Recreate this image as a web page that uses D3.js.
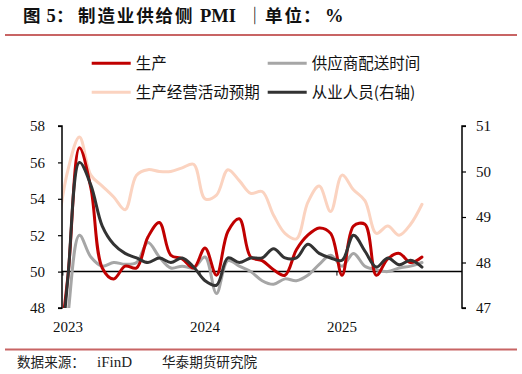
<!DOCTYPE html>
<html><head><meta charset="utf-8">
<script src="https://cdn.jsdelivr.net/npm/d3@7/dist/d3.min.js"></script>
<style>
html,body{margin:0;padding:0;background:#fff;}
svg{display:block;}
</style></head>
<body>
<svg id="chart" width="522" height="374"></svg>
<script>
// Months from Dec 2022 to Aug 2025 (index 0 = 2022-12)
const months = ["2022-12","2023-01","2023-02","2023-03","2023-04","2023-05","2023-06","2023-07","2023-08","2023-09","2023-10","2023-11","2023-12","2024-01","2024-02","2024-03","2024-04","2024-05","2024-06","2024-07","2024-08","2024-09","2024-10","2024-11","2024-12","2025-01","2025-02","2025-03","2025-04","2025-05","2025-06","2025-07","2025-08"];
const production = [44.6,49.8,56.8,54.6,50.2,49.6,50.3,50.2,51.9,52.7,50.9,50.7,50.2,51.3,49.8,52.2,52.9,50.8,50.6,50.1,49.8,51.2,52.0,52.4,52.1,49.8,52.5,52.6,49.8,50.7,51.0,50.5,50.8];
const delivery = [40.1,47.6,52.0,50.8,50.3,50.5,50.4,50.5,51.6,50.8,50.2,50.3,50.2,50.8,48.8,50.6,50.3,50.0,49.5,49.3,49.6,49.5,49.8,50.4,50.9,50.3,51.0,50.3,50.1,50.0,50.2,50.3,50.5];
const expectation = [51.9,55.6,57.4,55.3,54.7,54.1,53.4,55.3,55.6,55.5,55.5,55.7,55.9,54.0,54.2,55.6,55.0,54.3,54.4,53.1,52.1,51.8,53.8,54.7,53.3,55.3,54.5,53.9,52.1,52.5,52.0,52.6,53.7];
const employment = [44.8,47.7,50.2,49.7,48.8,48.4,48.2,48.1,48.0,48.1,48.0,48.1,47.9,47.6,47.5,48.1,48.0,48.1,48.1,48.3,48.1,48.1,48.4,48.2,48.1,48.05,48.6,48.25,47.9,48.1,47.95,48.05,47.9];
const leftTicks = [48,50,52,54,56,58];
const rightTicks = [47,48,49,50,51];
const yearLabels = ["2023","2024","2025"];
const yearIdx = [1,13,25];
const seriesNames = ["生产","供应商配送时间","生产经营活动预期","从业人员(右轴)"];
const colors = ["#C00000","#A6A6A6","#FBD3C0","#333333"];

const svg = d3.select("#chart");
const L = 62, R = 462, T = 126, B = 308;
const x = d3.scaleLinear().domain([0, 32]).range([56.6, 422.0]);
const yL = d3.scaleLinear().domain([48, 58]).range([B, T]);
const yR = d3.scaleLinear().domain([47, 51]).range([B, T]);
const cjk = "'Noto Sans CJK SC','Noto Sans',sans-serif";
const serif = "'Liberation Serif','DejaVu Serif',serif";

// Title (segments placed as in the original)
const titleParts = [
  {t: "图", x: 23, f: cjk},
  {t: "5", x: 46.5, f: serif},
  {t: "：", x: 56, f: cjk},
  {t: "制造业供给侧", x: 78, f: cjk, ls: 1.9},
  {t: "PMI", x: 200, f: serif},
  {t: "｜", x: 246, f: cjk},
  {t: "单位", x: 265, f: cjk, ls: 1.9},
  {t: "：", x: 303, f: cjk},
  {t: "%", x: 325, f: serif}
];
titleParts.forEach(p => {
  svg.append("text").attr("x", p.x).attr("y", 21.5).attr("font-family", p.f)
    .attr("font-size", p.f === serif ? 18.5 : 17.5).attr("font-weight", "bold")
    .attr("letter-spacing", p.ls || 0).attr("fill", "#111").text(p.t);
});

svg.append("line").attr("x1", 5).attr("x2", 517).attr("y1", 35).attr("y2", 35).attr("stroke", "#C86464").attr("stroke-width", 1.8);
svg.append("line").attr("x1", 5).attr("x2", 517).attr("y1", 349.5).attr("y2", 349.5).attr("stroke", "#C86464").attr("stroke-width", 1.8);

// Source
const srcParts = [
  {t: "数据来源：", x: 17, f: cjk},
  {t: "iFinD", x: 97, f: serif},
  {t: "华泰期货研究院", x: 162, f: cjk}
];
srcParts.forEach(p => {
  svg.append("text").attr("x", p.x).attr("y", 367).attr("font-family", p.f)
    .attr("font-size", p.f === serif ? 15 : 13.6).attr("fill", "#222").text(p.t);
});

// Legend
const legendPos = [[91.7,63.3],[267.7,63.3],[91.7,92.3],[267.7,92.3]];
seriesNames.forEach((n, i) => {
  const [lx, ly] = legendPos[i];
  svg.append("line").attr("x1", lx).attr("x2", lx + 39).attr("y1", ly).attr("y2", ly).attr("stroke", colors[i]).attr("stroke-width", 3);
  svg.append("text").attr("x", lx + 44).attr("y", ly + 5.5).attr("font-family", cjk).attr("font-size", 15.5).attr("fill", "#111").text(n);
});

// Clip
svg.append("defs").append("clipPath").attr("id", "plotclip").append("rect").attr("x", L).attr("y", T - 10).attr("width", R - L).attr("height", B - T + 10);

// Baseline at 50
svg.append("line").attr("x1", L).attr("x2", R).attr("y1", yL(50)).attr("y2", yL(50)).attr("stroke", "#000").attr("stroke-width", 1.5);
yearIdx.forEach(i => {
  svg.append("line").attr("x1", x(i - 0.45)).attr("x2", x(i - 0.45)).attr("y1", yL(50)).attr("y2", yL(50) + 4).attr("stroke", "#000").attr("stroke-width", 1);
});

// Lines
const g = svg.append("g").attr("clip-path", "url(#plotclip)");
const mk = (data, ys) => d3.line().x((d, i) => x(i)).y(d => ys(d)).curve(d3.curveCatmullRom.alpha(0.5))(data);
const dataSets = [[production, yL], [delivery, yL], [expectation, yL], [employment, yR]];
[2, 1, 0, 3].forEach(k => {
  g.append("path").attr("d", mk(dataSets[k][0], dataSets[k][1])).attr("fill", "none").attr("stroke", colors[k]).attr("stroke-width", 3).attr("stroke-linejoin", "round").attr("stroke-linecap", "round");
});

// Left axis
const axL = svg.append("g").attr("transform", `translate(${L},0)`).call(d3.axisLeft(yL).tickValues(leftTicks).tickSize(4).tickPadding(13).tickFormat(d3.format("d")));
axL.select(".domain").attr("stroke", "#000").attr("stroke-width", 1.5).attr("d", `M-4,${T}H0V${B}H-4`);
axL.selectAll("text").attr("font-family", serif).attr("font-size", 15).attr("fill", "#111");
axL.selectAll("line").attr("stroke-width", 1.2);

// Right axis
const axR = svg.append("g").attr("transform", `translate(${R},0)`).call(d3.axisRight(yR).tickValues(rightTicks).tickSize(4).tickPadding(10).tickFormat(d3.format("d")));
axR.select(".domain").attr("stroke", "#000").attr("stroke-width", 1.5).attr("d", `M4,${T}H0V${B}H4`);
axR.selectAll("text").attr("font-family", serif).attr("font-size", 15).attr("fill", "#111");
axR.selectAll("line").attr("stroke-width", 1.2);

// Year labels
yearLabels.forEach((t, k) => {
  svg.append("text").attr("x", x(yearIdx[k])).attr("y", 332).attr("text-anchor", "middle").attr("font-family", serif).attr("font-size", 15).attr("fill", "#111").text(t);
});
</script>
</body></html>
